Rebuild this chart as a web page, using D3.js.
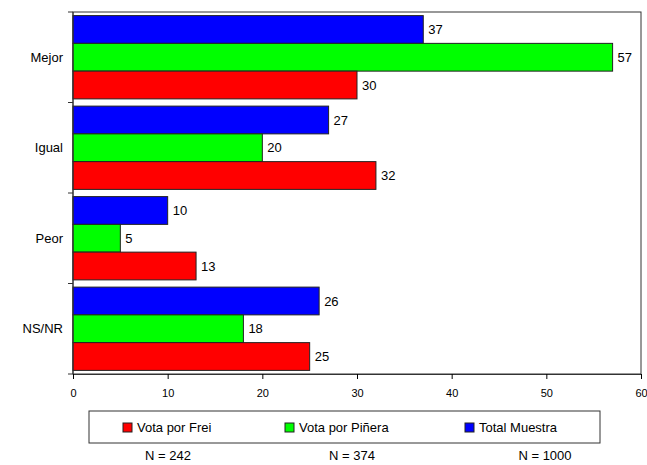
<!DOCTYPE html>
<meta charset="utf-8">
<style>
body { margin: 0; background: #fff; font-family: "Liberation Sans", Arial, sans-serif; }
text { fill: #000; }
</style>
<body>
<script src="https://d3js.org/d3.v7.min.js"></script>
<script>
var categories = ["Mejor", "Igual", "Peor", "NS/NR"];
var seriesNames = ["Total Muestra", "Vota por Piñera", "Vota por Frei"];
var totalMuestra = [37, 27, 10, 26];
var votaPinera = [57, 20, 5, 18];
var votaFrei = [30, 32, 13, 25];
var colors = ["#0000ff", "#00ff00", "#ff0000"];
var xTicks = [0, 10, 20, 30, 40, 50, 60];
var legendOrder = ["Vota por Frei", "Vota por Piñera", "Total Muestra"];
var nLabels = ["N = 242", "N = 374", "N = 1000"];

var series = [totalMuestra, votaPinera, votaFrei];

var width = 647, height = 465;
var plotL = 73, plotR = 641, plotT = 12, plotB = 374;

var svg = d3.select("body").append("svg")
    .attr("width", width)
    .attr("height", height);

var x = d3.scaleLinear().domain([0, 60]).range([plotL, plotR]);
var y = d3.scaleBand().domain(categories).range([plotT, plotB]);
var inner = d3.scaleBand().domain(seriesNames).range([0, y.bandwidth()]).paddingOuter(0.13);

// frame
svg.append("rect")
    .attr("x", plotL).attr("y", plotT)
    .attr("width", plotR - plotL).attr("height", plotB - plotT)
    .attr("fill", "none").attr("stroke", "#333").attr("stroke-width", 1);

var g = svg.append("g");
categories.forEach(function(c, i) {
  series.forEach(function(s, j) {
    var yy = y(c) + inner(seriesNames[j]);
    g.append("rect")
      .attr("x", x(0)).attr("y", yy)
      .attr("width", x(s[i]) - x(0)).attr("height", inner.bandwidth())
      .attr("fill", colors[j]).attr("stroke", "#222").attr("stroke-width", 1);
    g.append("text")
      .attr("x", x(s[i]) + 5).attr("y", yy + inner.bandwidth() / 2)
      .attr("dy", "0.35em")
      .attr("font-size", 13)
      .text(s[i]);
  });
});

// x axis
var xAxis = svg.append("g")
    .attr("transform", "translate(0," + plotB + ")")
    .call(d3.axisBottom(x).tickValues(xTicks).tickSize(5).tickPadding(10));
xAxis.selectAll("text").attr("font-size", 11).attr("font-family", "Liberation Sans, Arial, sans-serif");
xAxis.select(".domain").attr("stroke", "#333");

// y axis: ticks at band boundaries
var yAxis = svg.append("g").attr("transform", "translate(" + plotL + ",0)");
yAxis.append("line").attr("x1", 0).attr("x2", 0).attr("y1", plotT).attr("y2", plotB).attr("stroke", "#333");
categories.forEach(function(c) {
  yAxis.append("line").attr("x1", -5).attr("x2", 0)
    .attr("y1", y(c)).attr("y2", y(c)).attr("stroke", "#333");
  yAxis.append("text")
    .attr("x", -10).attr("y", y(c) + y.bandwidth() / 2)
    .attr("dy", "0.35em").attr("text-anchor", "end")
    .attr("font-size", 13)
    .text(c);
});
yAxis.append("line").attr("x1", -5).attr("x2", 0).attr("y1", plotB).attr("y2", plotB).attr("stroke", "#333");

// legend
var legend = svg.append("g");
legend.append("rect")
    .attr("x", 89).attr("y", 411).attr("width", 511).attr("height", 32)
    .attr("fill", "#fff").attr("stroke", "#333");
var legX = [123, 285, 465];
legendOrder.forEach(function(name, i) {
  var j = seriesNames.indexOf(name);
  legend.append("rect")
    .attr("x", legX[i]).attr("y", 423).attr("width", 9).attr("height", 9)
    .attr("fill", colors[j]).attr("stroke", "#222");
  legend.append("text")
    .attr("x", legX[i] + 14).attr("y", 427.5).attr("dy", "0.35em")
    .attr("font-size", 13)
    .text(name);
});

var nX = [168, 352, 545];
nLabels.forEach(function(t, i) {
  svg.append("text")
    .attr("x", nX[i]).attr("y", 455).attr("dy", "0.35em")
    .attr("text-anchor", "middle").attr("font-size", 13)
    .text(t);
});
</script>
</body>
